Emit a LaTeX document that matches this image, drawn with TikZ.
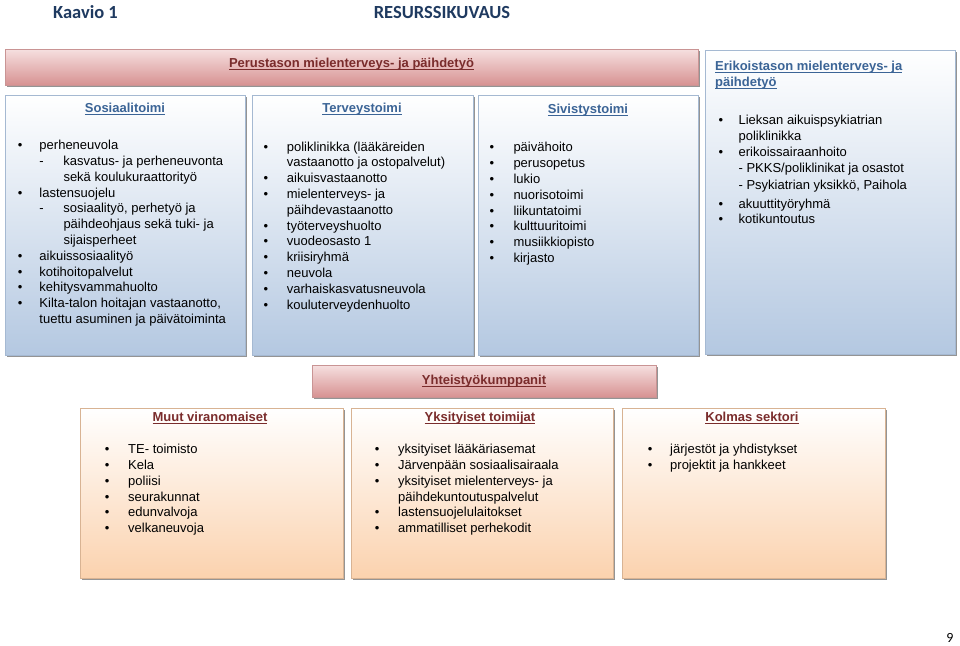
\documentclass[tikz,border=0pt]{standalone}
\usepackage{fontspec}
\setmainfont{Liberation Sans}
\newfontfamily\calibri{Carlito}
\usepackage{xcolor}
\usetikzlibrary{shadows}
\definecolor{navy}{HTML}{1F3A60}
\definecolor{steel}{HTML}{3B6496}
\definecolor{wine}{HTML}{7A2C2C}
\definecolor{blueB}{HTML}{B4C8E1}
\definecolor{blueline}{HTML}{A5B9D2}
\definecolor{pinkT}{HTML}{F6E0E0}
\definecolor{pinkB}{HTML}{D79292}
\definecolor{pinkline}{HTML}{C99494}
\definecolor{peachB}{HTML}{FBD2AE}
\definecolor{peachline}{HTML}{D8B393}
\newcommand{\blist}[2]{\begin{tabular}{@{}p{#1}@{}l@{}}#2\end{tabular}}
\newcommand{\dsh}{\makebox[24pt][l]{-}}
\newcommand{\ind}{\hspace*{24pt}}
\newcommand{\ul}[1]{\setbox0\hbox{#1}\rlap{\rule[-2pt]{\wd0}{0.8pt}}\box0}

\begin{document}
\begin{tikzpicture}[x=1pt,y=-1pt,
  box/.style={inner sep=0pt,outer sep=0pt,anchor=north west,line width=0.6pt,
    drop shadow={shadow xshift=2pt,shadow yshift=-2pt,fill=black!60,opacity=.7}},
  bluebox/.style={box,draw=blueline,top color=white,bottom color=blueB},
  pinkbar/.style={box,draw=pinkline,top color=pinkT,bottom color=pinkB},
  peachbox/.style={box,draw=peachline,top color=white,bottom color=peachB},
  head/.style={font=\fontsize{13}{16}\selectfont\bfseries,anchor=base,inner sep=0pt},
  lst/.style={font=\fontsize{13}{15.8}\selectfont,anchor=north west,inner sep=0pt},
  bigtitle/.style={font=\calibri\fontsize{18.5}{22}\selectfont\bfseries,text=navy,anchor=base,inner sep=0pt}]
  \useasboundingbox (0,0) rectangle (960,645);
  \node[bigtitle] (kaavio) at (85.5,18.7) {Kaavio 1};
  \node[bigtitle] (resurssi) at (442,18.7) {RESURSSIKUVAUS};
  \node[pinkbar,minimum width=693pt,minimum height=36pt] (perus) at (5,49) {};
  \node[bluebox,minimum width=240pt,minimum height=260pt] (sos) at (5,95) {};
  \node[bluebox,minimum width=221pt,minimum height=260pt] (terv) at (252,95) {};
  \node[bluebox,minimum width=220pt,minimum height=260pt] (siv) at (478,95) {};
  \node[bluebox,minimum width=250pt,minimum height=304pt] (erik) at (705,50) {};
  \node[pinkbar,minimum width=344pt,minimum height=32pt] (yht) at (312,365) {};
  \node[peachbox,minimum width=263pt,minimum height=170pt] (muut) at (80,408) {};
  \node[peachbox,minimum width=262pt,minimum height=170pt] (yks) at (351,408) {};
  \node[peachbox,minimum width=263pt,minimum height=170pt] (kolm) at (622,408) {};
  \node[head,text=wine] (perusT) at (351.5,67.7) {\ul{Perustason mielenterveys- ja päihdetyö}};
  \node[head,text=steel] (sosT) at (125,112.7) {\ul{Sosiaalitoimi}};
  \node[head,text=steel] (tervT) at (362,112.7) {\ul{Terveystoimi}};
  \node[head,text=steel] (sivT) at (588,113.7) {\ul{Sivistystoimi}};
  \node[head,text=steel,anchor=base west] (erikT) at (715,70.4) {\ul{Erikoistason mielenterveys- ja}};
  \node[head,text=steel,anchor=base west] (erikT2) at (715,86.7) {\ul{päihdetyö}};
  \node[head,text=wine] (yhtT) at (484,384.7) {\ul{Yhteistyökumppanit}};
  \node[head,text=wine] (muutT) at (210,421.7) {\ul{Muut viranomaiset}};
  \node[head,text=wine] (yksT) at (480,421.7) {\ul{Yksityiset toimijat}};
  \node[head,text=wine] (kolmT) at (752,421.7) {\ul{Kolmas sektori}};
  \node[lst] (sosL) at (17.7,138.5) {\blist{21.6pt}{
    • & perheneuvola\\
      & \dsh kasvatus- ja perheneuvonta\\
      & \ind sekä koulukuraattorityö\\
    • & lastensuojelu\\
      & \dsh sosiaalityö, perhetyö ja\\
      & \ind päihdeohjaus sekä tuki- ja\\
      & \ind sijaisperheet\\
    • & aikuissosiaalityö\\
    • & kotihoitopalvelut\\
    • & kehitysvammahuolto\\
    • & Kilta-talon hoitajan vastaanotto,\\
      & tuettu asuminen ja päivätoiminta}};
  \node[lst] (tervL) at (263.4,139.9) {\blist{23.3pt}{
    • & poliklinikka (lääkäreiden\\
      & vastaanotto ja ostopalvelut)\\
    • & aikuisvastaanotto\\
    • & mielenterveys- ja\\
      & päihdevastaanotto\\
    • & työterveyshuolto\\
    • & vuodeosasto 1\\
    • & kriisiryhmä\\
    • & neuvola\\
    • & varhaiskasvatusneuvola\\
    • & kouluterveydenhuolto}};
  \node[lst] (sivL) at (489.4,140.6) {\blist{23.9pt}{
    • & päivähoito\\
    • & perusopetus\\
    • & lukio\\
    • & nuorisotoimi\\
    • & liikuntatoimi\\
    • & kulttuuritoimi\\
    • & musiikkiopisto\\
    • & kirjasto}};
  \node[lst] (erikL) at (718.4,113.4) {\blist{20pt}{
    • & Lieksan aikuispsykiatrian\\
      & poliklinikka\\
    • & erikoissairaanhoito\\
      & - PKKS/poliklinikat ja osastot\\[1.2pt]
      & - Psykiatrian yksikkö, Paihola\\[3.2pt]
    • & akuuttityöryhmä\\
    • & kotikuntoutus}};
  \node[lst] (muutL) at (104.7,442.4) {\blist{23.3pt}{
    • & TE- toimisto\\
    • & Kela\\
    • & poliisi\\
    • & seurakunnat\\
    • & edunvalvoja\\
    • & velkaneuvoja}};
  \node[lst] (yksL) at (374.7,442.4) {\blist{23.3pt}{
    • & yksityiset lääkäriasemat\\
    • & Järvenpään sosiaalisairaala\\
    • & yksityiset mielenterveys- ja\\
      & päihdekuntoutuspalvelut\\
    • & lastensuojelulaitokset\\
    • & ammatilliset perhekodit}};
  \node[lst] (kolmL) at (647.7,442.4) {\blist{22.3pt}{
    • & järjestöt ja yhdistykset\\
    • & projektit ja hankkeet}};
  \node[font=\calibri\fontsize{14}{16}\selectfont,anchor=base,inner sep=0pt] (sivu) at (950,642.5) {9};
\end{tikzpicture}
\end{document}
